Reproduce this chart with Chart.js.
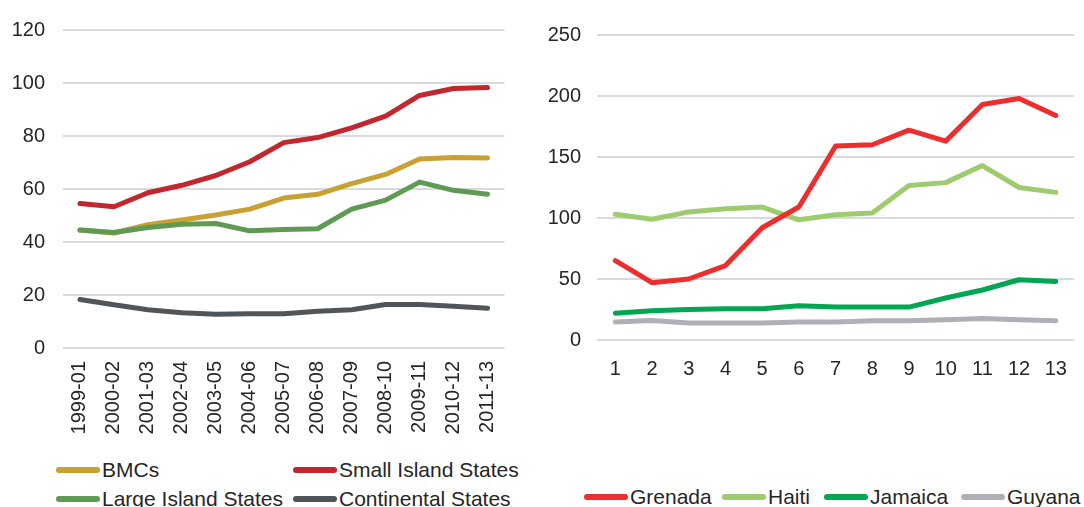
<!DOCTYPE html>
<html>
<head>
<meta charset="utf-8">
<script src="https://cdn.jsdelivr.net/npm/chart.js@4.4.1/dist/chart.umd.min.js"></script>
<style>
  body { margin: 0; background: #fff; width: 1084px; height: 507px; overflow: hidden; position: relative; font-family: "Liberation Sans", Arial, sans-serif; color: #262626; }
  .box { position: absolute; }
  .legend { position: absolute; font-size: 21px; color: #262626; }
  .item { position: absolute; display: flex; align-items: center; white-space: nowrap; line-height: 24px; }
  .swatch { width: 44px; height: 6px; border-radius: 3px; margin-right: 2px; }
</style>
</head>
<body>
<div class="box" style="left:0;top:0;width:525px;height:445px"><canvas id="leftChart"></canvas></div>
<div class="box" style="left:540px;top:0;width:544px;height:400px"><canvas id="rightChart"></canvas></div>
<div class="legend" id="leftLegend"></div>
<div class="legend" id="rightLegend"></div>
<script>
const periods = ['1999-01', '2000-02', '2001-03', '2002-04', '2003-05', '2004-06', '2005-07',
    '2006-08', '2007-09', '2008-10', '2009-11', '2010-12', '2011-13'];
const bmcs = [44.5, 43.4, 46.5, 48.3, 50.2, 52.4, 56.6, 58.0, 62.0, 65.5, 71.3, 71.9, 71.7];
const smallIsland = [54.5, 53.3, 58.6, 61.4, 65.1, 70.3, 77.5, 79.4, 83.1, 87.5, 95.3, 97.9, 98.3];
const largeIsland = [44.5, 43.6, 45.5, 46.7, 47.0, 44.2, 44.7, 45.0, 52.4, 55.8, 62.6, 59.5, 58.0];
const continental = [18.3, 16.3, 14.4, 13.3, 12.7, 12.9, 12.9, 13.9, 14.4, 16.4, 16.4, 15.8, 15.0];

const years = ['1', '2', '3', '4', '5', '6', '7', '8', '9', '10', '11', '12', '13'];
const grenada = [65, 47, 50, 61, 92, 109, 159, 160, 172, 163, 193, 198, 184];
const haiti = [103, 99, 105, 107.5, 109, 98.5, 102.6, 104, 126.6, 129, 143, 125, 121];
const jamaica = [22, 24, 25, 25.7, 25.7, 28, 27, 27, 27, 34.4, 41, 49.4, 48];
const guyana = [14.7, 16, 14, 14, 14, 14.7, 14.7, 15.8, 15.8, 16.6, 17.7, 16.6, 15.8];

const tickFont = { family: '"Liberation Sans", Arial, sans-serif', size: 20 };
const gridColor = '#d9dadd';

function line(label, data, color, order) {
    return {
        label: label,
        data: data,
        borderColor: color,
        backgroundColor: color,
        borderWidth: 5,
        borderCapStyle: 'round',
        borderJoinStyle: 'round',
        pointRadius: 0,
        tension: 0,
        order: order || 0
    };
}

function makeChart(canvasId, labels, datasets, yMax, yStep, opts) {
    return new Chart(document.getElementById(canvasId), {
        type: 'line',
        data: { labels: labels, datasets: datasets },
        options: {
            responsive: true,
            maintainAspectRatio: false,
            animation: false,
            layout: { padding: opts.padding },
            plugins: { legend: { display: false }, tooltip: { enabled: false } },
            scales: {
                x: {
                    offset: true,
                    grid: { display: false, drawTicks: false },
                    border: { display: false },
                    ticks: {
                        color: '#262626', font: tickFont, padding: opts.xPad,
                        minRotation: opts.rot, maxRotation: opts.rot, autoSkip: false
                    },
                    afterFit: (s) => { s.height = opts.xHeight; }
                },
                y: {
                    min: 0, max: yMax,
                    grid: { color: gridColor, lineWidth: 2, drawTicks: false },
                    border: { display: false },
                    ticks: { stepSize: yStep, color: '#262626', font: tickFont, padding: opts.yPad },
                    afterFit: (s) => { s.width = opts.yWidth; }
                }
            }
        }
    });
}

const leftChart = makeChart('leftChart', periods, [
    line('BMCs', bmcs, '#c9a032', 1),
    line('Small Island States', smallIsland, '#c1272d', 0),
    line('Large Island States', largeIsland, '#5f9a52', 0),
    line('Continental States', continental, '#4f5558', 1)
], 120, 20, { padding: { top: 26, right: 13, left: 0, bottom: 0 }, xHeight: 97, yWidth: 63, xPad: 13, yPad: 18, rot: 90 });

const rightChart = makeChart('rightChart', years, [
    line('Grenada', grenada, '#ee2e2e'),
    line('Haiti', haiti, '#9dcb6e'),
    line('Jamaica', jamaica, '#00a651'),
    line('Guyana', guyana, '#aeb0b5')
], 250, 50, { padding: { top: 35, right: 2, left: 0, bottom: 0 }, xHeight: 60, yWidth: 57, xPad: 17, yPad: 16, rot: 0 });

// html legends, positioned like the original
function buildLegend(el, chart, spots) {
    chart.data.datasets.forEach((ds, i) => {
        const item = document.createElement('div');
        item.className = 'item';
        item.style.left = spots[i][0] + 'px';
        item.style.top = (spots[i][1] - 12) + 'px';
        item.innerHTML = '<span class="swatch" style="background:' + ds.borderColor + '"></span>' + ds.label;
        el.appendChild(item);
    });
}
buildLegend(document.getElementById('leftLegend'), leftChart, [[56, 470], [293, 470], [56, 499], [293, 499]]);
buildLegend(document.getElementById('rightLegend'), rightChart, [[584, 497], [722, 497], [824, 497], [961, 497]]);
</script>
</body>
</html>
